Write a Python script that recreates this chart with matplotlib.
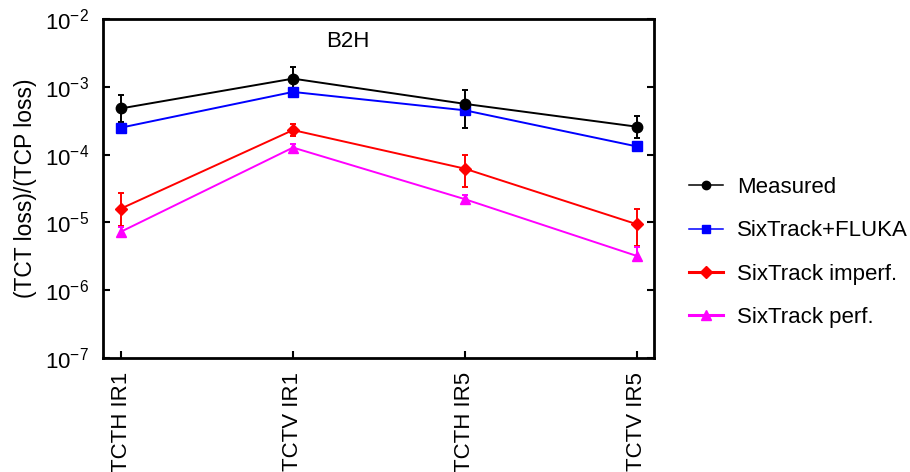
import matplotlib.pyplot as plt
import numpy as np
from matplotlib.lines import Line2D

plt.rcParams["font.family"] = ["Liberation Sans", "DejaVu Sans"]

# Data
collimators = ["TCTH IR1", "TCTV IR1", "TCTH IR5", "TCTV IR5"]

measured = [4.8e-4, 1.32e-3, 5.6e-4, 2.58e-4]
measured_lo = [3.0e-4, 9.1e-4, 2.5e-4, 1.78e-4]
measured_hi = [7.6e-4, 1.97e-3, 9.1e-4, 3.7e-4]

fluka = [2.5e-4, 8.4e-4, 4.5e-4, 1.32e-4]

imperf = [1.6e-5, 2.3e-4, 6.2e-5, 9.4e-6]
imperf_lo = [8.9e-6, 1.9e-4, 3.3e-5, 4.5e-6]
imperf_hi = [2.75e-5, 2.8e-4, 9.9e-5, 1.55e-5]

perf = [7.3e-6, 1.27e-4, 2.2e-5, 3.2e-6]
perf_lo = [6.3e-6, 1.12e-4, 1.95e-5, 2.8e-6]
perf_hi = [8.7e-6, 1.42e-4, 2.5e-5, 4.4e-6]

x = np.arange(len(collimators))


def err(v, lo, hi):
    v = np.array(v)
    return [v - np.array(lo), np.array(hi) - v]


fig = plt.figure(figsize=(9.1, 4.72), dpi=100)
ax = fig.add_axes([103 / 910, 1 - 358 / 472, 551 / 910, 339 / 472])

kw = dict(lw=1.4, elinewidth=1.4, capsize=2.2, capthick=1.4)
ax.errorbar(x, measured, yerr=err(measured, measured_lo, measured_hi),
            color="black", marker="o", ms=7.5, **kw)
ax.plot(x, fluka, color="blue", marker="s", ms=6.5, lw=1.4)
ax.errorbar(x, imperf, yerr=err(imperf, imperf_lo, imperf_hi),
            color="red", marker="D", ms=6.5, **kw)
ax.errorbar(x, perf, yerr=err(perf, perf_lo, perf_hi),
            color="magenta", marker="^", ms=7.5, **kw)

ax.set_yscale("log")
ax.set_ylim(1e-7, 1e-2)
ax.set_xlim(-0.105, 3.1)
ax.set_xticks(x)
ax.set_xticklabels(collimators, rotation=90, fontsize=16)
ax.set_yticks([1e-7, 1e-6, 1e-5, 1e-4, 1e-3, 1e-2])
ax.minorticks_off()
ax.tick_params(axis="y", which="major", direction="in", length=5, width=1.5,
               right=True, labelsize=16, pad=10)
ax.tick_params(axis="x", direction="in", length=5, width=1.5, labelsize=16,
               pad=10)
for s in ax.spines.values():
    s.set_linewidth(2)

ax.set_ylabel("(TCT loss)/(TCP loss)", fontsize=16.5, labelpad=6)
ax.text(0.445, 0.935, "B2H", transform=ax.transAxes, fontsize=16,
        ha="center", va="center")

handles = [
    Line2D([], [], color="black", marker="o", ms=6, lw=1.1),
    Line2D([], [], color="blue", marker="s", ms=5.5, lw=1.1),
    Line2D([], [], color="red", marker="D", ms=6, lw=2.2),
    Line2D([], [], color="magenta", marker="^", ms=6.5, lw=2.2),
]
labels = ["Measured", "SixTrack+FLUKA", "SixTrack imperf.", "SixTrack perf."]
fig.legend(handles, labels, loc="center left", bbox_to_anchor=(0.757, 0.465),
           frameon=False, fontsize=16, handlelength=1.55, handletextpad=0.6,
           labelspacing=1.0, borderpad=0, borderaxespad=0)

fig.savefig("out.png", dpi=100)
